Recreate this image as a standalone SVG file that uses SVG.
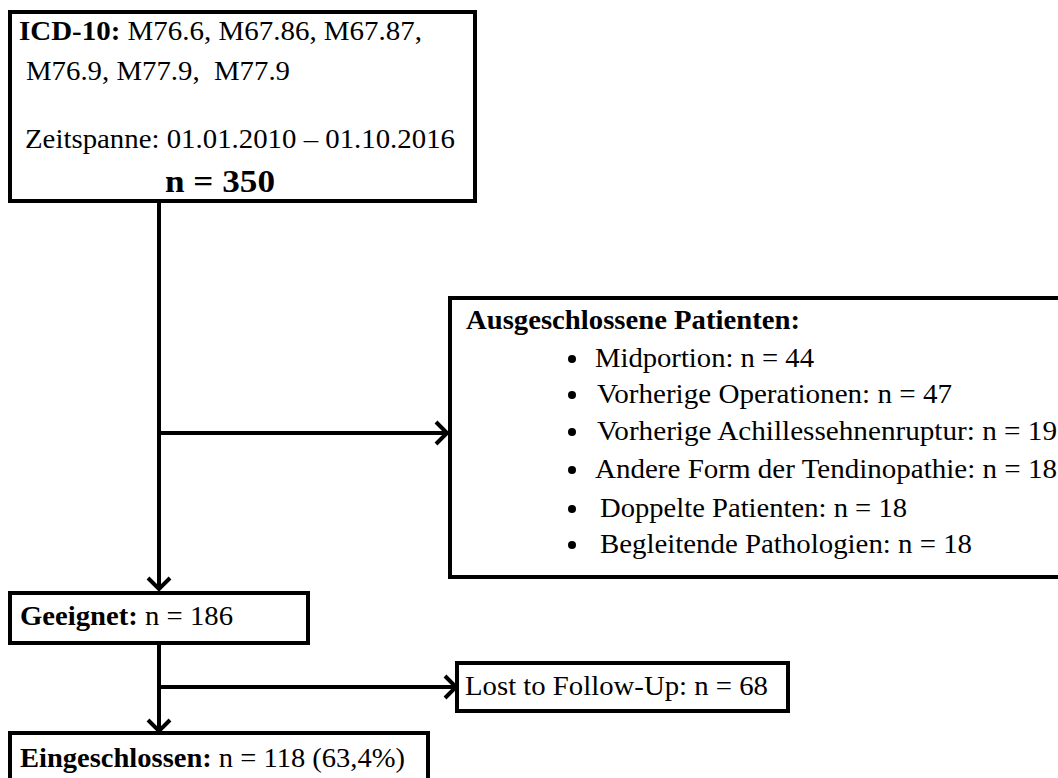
<svg xmlns="http://www.w3.org/2000/svg" width="1058" height="778" viewBox="0 0 1058 778">
<style>
.box{fill:#fff;stroke:#000;stroke-width:4}
.t{font-family:"Liberation Serif","Times New Roman",serif;font-size:27px;fill:#000}
.b{font-weight:bold}
.con{stroke:#000;stroke-width:4;fill:none}
.bul{fill:#000}
</style>
<defs>
<marker id="arr" markerUnits="userSpaceOnUse" viewBox="0 0 16 26" refX="13" refY="13" markerWidth="16" markerHeight="26" orient="auto">
<path d="M2,2 L13,13 L2,24" fill="none" stroke="#000" stroke-width="4" stroke-linejoin="miter"/>
</marker>
</defs>
<rect width="1058" height="778" fill="#fff"/>
<g id="connectors">
<line class="con" x1="159" y1="201" x2="159" y2="589" marker-end="url(#arr)"/>
<line class="con" x1="157" y1="433" x2="447" y2="433" marker-end="url(#arr)"/>
<line class="con" x1="159" y1="643" x2="159" y2="731" marker-end="url(#arr)"/>
<line class="con" x1="157" y1="687" x2="456" y2="687" marker-end="url(#arr)"/>
</g>
<g id="node-icd">
<rect class="box" x="10" y="12" width="465" height="189"/>
<text class="t" x="19" y="40" textLength="403" lengthAdjust="spacingAndGlyphs"><tspan class="b">ICD-10:</tspan> M76.6, M67.86, M67.87,</text>
<text class="t" x="26" y="80" textLength="264" lengthAdjust="spacingAndGlyphs" xml:space="preserve">M76.9, M77.9,  M77.9</text>
<text class="t" x="25" y="148" textLength="430" lengthAdjust="spacingAndGlyphs">Zeitspanne: 01.01.2010 – 01.10.2016</text>
<text class="t b" x="165" y="192" style="font-size:31px" textLength="110" lengthAdjust="spacingAndGlyphs">n = 350</text>
</g>
<g id="node-excluded">
<rect class="box" x="450" y="298" width="620" height="279"/>
<text class="t b" x="466" y="329" textLength="334" lengthAdjust="spacingAndGlyphs">Ausgeschlossene Patienten:</text>
<circle class="bul" cx="572" cy="359" r="4"/>
<text class="t" x="595" y="367" textLength="219" lengthAdjust="spacingAndGlyphs">Midportion: n = 44</text>
<circle class="bul" cx="572" cy="395" r="4"/>
<text class="t" x="597" y="403" textLength="355" lengthAdjust="spacingAndGlyphs">Vorherige Operationen: n = 47</text>
<circle class="bul" cx="572" cy="432" r="4"/>
<text class="t" x="597" y="440" textLength="460" lengthAdjust="spacingAndGlyphs">Vorherige Achillessehnenruptur: n = 19</text>
<circle class="bul" cx="572" cy="470" r="4"/>
<text class="t" x="595" y="478" textLength="462" lengthAdjust="spacingAndGlyphs">Andere Form der Tendinopathie: n = 18</text>
<circle class="bul" cx="572" cy="509" r="4"/>
<text class="t" x="600" y="517" textLength="307" lengthAdjust="spacingAndGlyphs">Doppelte Patienten: n = 18</text>
<circle class="bul" cx="572" cy="545" r="4"/>
<text class="t" x="600" y="553" textLength="372" lengthAdjust="spacingAndGlyphs">Begleitende Pathologien: n = 18</text>
</g>
<g id="node-geeignet">
<rect class="box" x="10" y="593" width="298" height="50"/>
<text class="t" x="20" y="625" textLength="213" lengthAdjust="spacingAndGlyphs"><tspan class="b">Geeignet:</tspan> n = 186</text>
</g>
<g id="node-lost">
<rect class="box" x="457" y="663" width="331" height="48"/>
<text class="t" x="465" y="695" textLength="303" lengthAdjust="spacingAndGlyphs">Lost to Follow-Up: n = 68</text>
</g>
<g id="node-eingeschlossen">
<rect class="box" x="10" y="733" width="418" height="60"/>
<text class="t" x="20" y="767" textLength="385" lengthAdjust="spacingAndGlyphs"><tspan class="b">Eingeschlossen:</tspan> n = 118 (63,4%)</text>
</g>
</svg>
